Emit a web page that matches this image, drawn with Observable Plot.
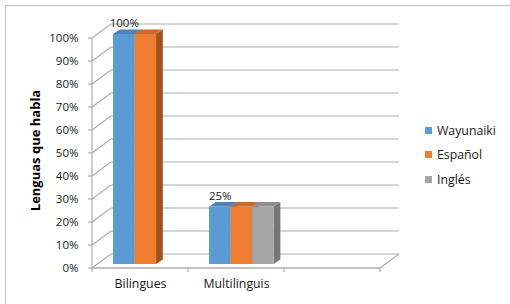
<!DOCTYPE html>
<html><head><meta charset="utf-8">
<script src="https://cdn.jsdelivr.net/npm/d3@7"></script>
<script src="https://cdn.jsdelivr.net/npm/@observablehq/plot@0.6"></script>
<style>
body{margin:0;background:#fff;}
#wrap{position:relative;width:510px;height:304px;overflow:hidden;font-family:"Open Sans",sans-serif;background:#fff;}
#border{position:absolute;left:5px;top:5px;width:700px;height:500px;border:1px solid #BFBFBF;}
#chart{position:absolute;left:0;top:0;}
#legend{position:absolute;left:425px;top:0;font-size:12.3px;color:#1a1a1a;}
.lg{position:absolute;left:0;white-space:nowrap;display:flex;align-items:center;height:18px;}
.sw{width:7px;height:7px;margin-right:5px;display:inline-block;}
</style></head><body>
<div id="wrap"><div id="border"></div><div id="chart"></div><div id="legend"></div></div>
<script>
// ---- data ----
const categories = ["Bilingues", "Multilinguis", ""];
const seriesNames = ["Wayunaiki", "Español", "Inglés"];
const wayunaiki = [1.00, 0.25, null];
const espanol = [1.00, 0.25, null];
const ingles = [0, 0.25, null];
const yTicks = [0, 0.1, 0.2, 0.3, 0.4, 0.5, 0.6, 0.7, 0.8, 0.9, 1.0];
const yTitle = "Lenguas que habla";
const labeledSeries = "Wayunaiki";

// ---- styling ----
const FRONT = ["#5B9BD5", "#ED7D31", "#A5A5A5"];
const TOP = ["#4A84BE", "#CC6A2A", "#8E8E8E"];
const SIDE = ["#3E6E9E", "#A4521D", "#767676"];
const GRID = "#ADADAD";
const DEPTH = {dx: 19, dy: -14};     // wall depth
const BAR_OFF = {dx: 5.3, dy: -3.9}; // bar front plane
const BAR_D = {dx: 6.8, dy: -4.6};   // bar depth
const GROUP_OFF = 0.164, SW = 0.224; // in band units

const seriesValues = [wayunaiki, espanol, ingles];
const rows = [];
categories.forEach((c, ci) => seriesValues.forEach((vals, si) => {
  if (vals[ci] != null) rows.push({cat: c, ci, series: seriesNames[si], si, value: vals[ci]});
}));

function scene(index, scales) {
  const x = scales.x, y = scales.y;
  const g = d3.create("svg:g");
  const n = categories.length;
  const X0 = x(0), X1 = x(n);
  const line = (x1, y1, x2, y2, w = 1.2) => g.append("line")
    .attr("x1", x1).attr("y1", y1).attr("x2", x2).attr("y2", y2)
    .attr("stroke", GRID).attr("stroke-width", w);
  for (const t of yTicks) {
    line(X0 + DEPTH.dx, y(t) + DEPTH.dy, X1 + DEPTH.dx, y(t) + DEPTH.dy);
    line(X0, y(t), X0 + DEPTH.dx, y(t) + DEPTH.dy);
    line(X0 - 4, y(t), X0, y(t));
  }
  line(X1, y(0), X1 + DEPTH.dx, y(0) + DEPTH.dy);
  line(X0, y(0), X0, y(yTicks[yTicks.length - 1]));
  line(X0, y(0), X1, y(0), 1.4);
  for (let i = 0; i <= n; i++) line(x(i), y(0), x(i), y(0) + 4);
  // bars
  for (const r of rows) {
    if (!(r.value > 0)) continue;
    const xa = x(r.ci + GROUP_OFF + r.si * SW) + BAR_OFF.dx;
    const xb = x(r.ci + GROUP_OFF + (r.si + 1) * SW) + BAR_OFF.dx;
    const yb = y(0) + BAR_OFF.dy, yt = y(r.value) + BAR_OFF.dy;
    const poly = (pts, fill) => g.append("polygon").attr("points", pts.map(p => p.join(",")).join(" ")).attr("fill", fill);
    poly([[xb, yt], [xb + BAR_D.dx, yt + BAR_D.dy], [xb + BAR_D.dx, yb + BAR_D.dy], [xb, yb]], SIDE[r.si]);
    poly([[xa, yt], [xb, yt], [xb + BAR_D.dx, yt + BAR_D.dy], [xa + BAR_D.dx, yt + BAR_D.dy]], TOP[r.si]);
    poly([[xa, yt], [xb, yt], [xb, yb], [xa, yb]], FRONT[r.si]);
  }
  return g.node();
}

const pct = v => Math.round(v * 100) + "%";

const chart = Plot.plot({
  width: 510, height: 304,
  marginTop: 0, marginRight: 0, marginBottom: 0, marginLeft: 0,
  x: {type: "linear", domain: [0, categories.length], range: [92, 380], axis: null},
  y: {type: "linear", domain: [0, 1], range: [268, 38], axis: null},
  style: {fontFamily: "'Open Sans', sans-serif", background: "transparent", color: "#1a1a1a"},
  marks: [
    scene,
    Plot.text(yTicks, {x: () => 0, y: d => d, text: pct, textAnchor: "end", dx: -14, fontSize: 11.5, fill: "#1a1a1a"}),
    Plot.text(categories, {x: (d, i) => i + 0.5, y: () => 0, text: d => d, dy: 16, fontSize: 12.3, fill: "#1a1a1a"}),
    Plot.text(rows.filter(r => r.series === labeledSeries && r.value > 0), {
      x: r => r.ci + GROUP_OFF + SW / 2, y: "value", text: r => pct(r.value),
      dx: BAR_OFF.dx, dy: -15, fontSize: 11.5, fill: "#1a1a1a"}),
    Plot.text([yTitle], {frameAnchor: "left", textAnchor: "middle", dx: 35, dy: -2, rotate: -90, fontSize: 13, fontWeight: "bold", fill: "#000"})
  ]
});
document.getElementById("chart").appendChild(chart);

const legendTops = [130, 154.5, 179];
const lg = document.getElementById("legend");
seriesNames.forEach((s, i) => {
  const d = document.createElement("div");
  d.className = "lg";
  d.style.top = (legendTops[i] - 9) + "px";
  d.innerHTML = `<span class="sw" style="background:${FRONT[i]}"></span><span>${s}</span>`;
  lg.appendChild(d);
});
</script>
</body></html>
